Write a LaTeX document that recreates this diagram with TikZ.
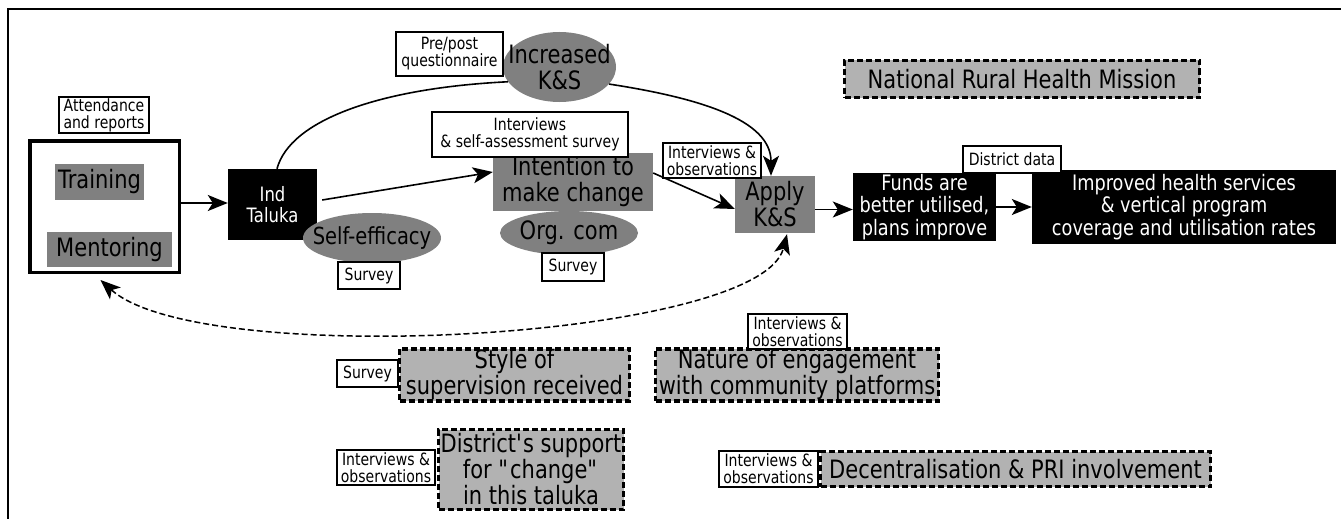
\documentclass[tikz,border=0pt]{standalone}
\usepackage{fontspec}
\setmainfont{DejaVu Sans}[FakeStretch=0.83]
\usepackage{tikz}
\usetikzlibrary{shapes.geometric, arrows.meta, positioning, calc}
\definecolor{midgrey}{gray}{0.5}
\definecolor{palegrey}{gray}{0.7}

\begin{document}
\begin{tikzpicture}[x=1pt, y=-1pt,
    bigtext/.style={font=\fontsize{25.3}{26}\selectfont},
    midtext/.style={font=\fontsize{21.3}{22.4}\selectfont},
    smalltext/.style={font=\fontsize{16.9}{17}\selectfont},
    method/.style={draw, line width=1.6pt, fill=white, smalltext, align=center, inner sep=1pt},
    grey box/.style={fill=midgrey, bigtext, align=center, inner sep=1pt},
    grey oval/.style={ellipse, fill=midgrey, bigtext, align=center, inner xsep=-20pt, inner ysep=0pt},
    dark box/.style={fill=black, text=white, midtext, align=center, inner sep=1pt},
    context/.style={draw, line width=3.6pt, dash pattern=on 6pt off 3pt, fill=palegrey, bigtext, align=center, inner sep=1pt},
    arrowhead/.tip={Stealth[length=20pt, width=16pt, inset=5pt]},
    link/.style={line width=1.6pt, -{arrowhead}},
  ]
        \useasboundingbox (0,0) rectangle (1341,519);

        % Frame
        \draw[line width=1.4pt] (8,519) -- (8,9) -- (1341,9);

        % Programme
        \node[draw, line width=3.5pt, minimum width=149.5pt, minimum height=131.5pt] (prog) at (104.5,206.5) {};
        \node[method, minimum width=90pt, minimum height=36pt] (attend) at (104,115) {Attendance\\and reports};
        \node[grey box, minimum width=89pt, minimum height=36pt] (training) at (99.5,182) {Training};
        \node[grey box, minimum width=125pt, minimum height=35pt] (mentoring) at (109.5,249.5) {Mentoring};

        % Individual
        \node[dark box, font=\fontsize{19.8}{21.5}\selectfont, minimum width=89pt, minimum height=71pt] (taluka) at (272.5,204.5) {Ind\\Taluka};
        \node[grey oval, font=\fontsize{23.5}{24}\selectfont, minimum width=138pt, minimum height=50pt] (selfeff) at (372,238) {Self-efficacy};
        \node[method, minimum width=62pt, minimum height=27pt] (svyA) at (369,275.5) {Survey};

        \node[grey oval, minimum width=113pt, minimum height=70pt] (kns) at (559.5,67) {Increased\\K\&S};
        \node[method, minimum width=107pt, minimum height=44pt] (prepost) at (449.5,54) {Pre/post\\questionnaire};

        \node[grey box, minimum width=160pt, minimum height=58pt] (intention) at (573,182) {Intention to\\make change};
        \node[method, minimum width=196pt, minimum height=45pt] (selfsurvey) at (530,134.5) {Interviews\\\& self-assessment survey};
        \node[grey oval, minimum width=138pt, minimum height=44pt] (orgcom) at (569,233) {Org. com};
        \node[method, minimum width=62pt, minimum height=28pt] (svyB) at (573,267) {Survey};

        \node[grey box, minimum width=80pt, minimum height=57pt] (apply) at (775,204.5) {Apply\\K\&S};
        \node[method, minimum width=98pt, minimum height=35pt] (intobsA) at (712,160.5) {Interviews \&\\observations};

        % Outcomes
        \node[dark box, minimum width=143pt, minimum height=66pt] (funds) at (924.5,207) {Funds are\\better utilised,\\plans improve};
        \node[dark box, minimum width=304pt, minimum height=74pt] (improved) at (1184,207) {Improved health services\\\& vertical program\\coverage and utilisation rates};
        \node[method, minimum width=98pt, minimum height=27pt] (ddata) at (1012,159.5) {District data};

        % Context
        \node[context, minimum width=355pt, minimum height=37pt] (nrhm) at (1022,79) {National Rural Health Mission};
        \node[context, minimum width=230pt, minimum height=51pt] (style) at (514.5,375) {Style of\\supervision received};
        \node[method, minimum width=61pt, minimum height=27pt] (svyC) at (367.5,373.5) {Survey};
        \node[context, minimum width=283pt, minimum height=51pt] (nature) at (797,375) {Nature of engagement\\with community platforms};
        \node[method, minimum width=99pt, minimum height=35pt] (intobsB) at (797.5,331.5) {Interviews \&\\observations};
        \node[context, minimum width=185pt, minimum height=80pt] (support) at (531,469.5) {District\textquotesingle s support\\for \textquotedbl change\textquotedbl\\in this taluka};
        \node[method, minimum width=98pt, minimum height=35pt] (intobsC) at (386,467.5) {Interviews \&\\observations};
        \node[context, minimum width=390pt, minimum height=35pt] (decent) at (1015.5,469) {Decentralisation \& PRI involvement};
        \node[method, minimum width=99pt, minimum height=36pt] (intobsD) at (768.5,469) {Interviews \&\\observations};

        % Links
        \draw[link] ($(prog.east)+(0,-3.5)$) -- ($(taluka.west)+(0,-1.5)$);
        \draw[line width=1.6pt] ($(taluka.north)+(4.5,0)$) .. controls (290,120) and (380,88) .. (kns.196);
        \draw[link] (kns.-19) .. controls (700,98) and (771,120) .. ($(apply.north)+(-4,0)$);
        \draw[link] ($(taluka.east)+(5,-4.5)$) -- ($(intention.west)+(0,-10)$);
        \draw[link] ($(intention.east)+(0,-9)$) -- ($(apply.west)+(0,4.5)$);
        \draw[link] ($(apply.east)+(0,5)$) -- ($(funds.west)+(0,2.5)$);
        \draw[link] (funds) -- (improved);

        % Feedback
        \draw[line width=1.5pt, dash pattern=on 6pt off 3pt, {arrowhead}-{arrowhead}] ($(prog.south)+(-4,6)$) .. controls (200,370) and (760,340) .. ($(apply.south)+(12,1)$);
      \end{tikzpicture}
\end{document}
